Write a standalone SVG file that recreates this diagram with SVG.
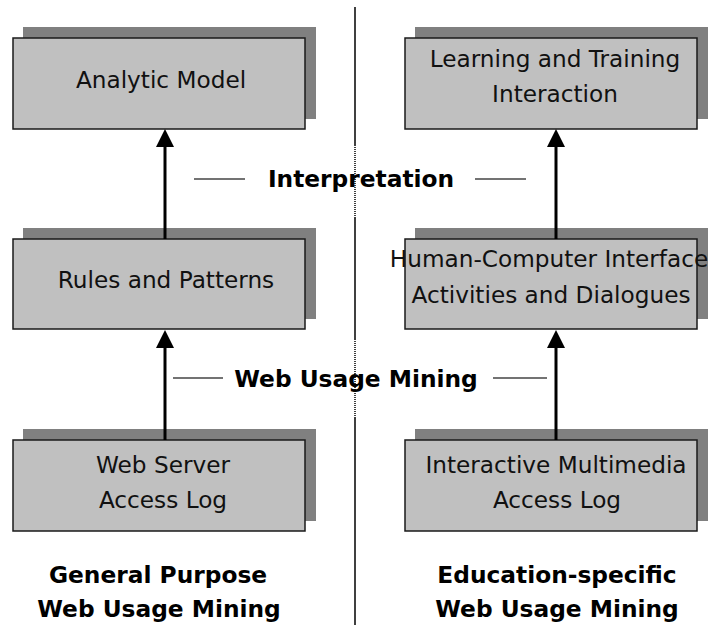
<svg xmlns="http://www.w3.org/2000/svg" width="714" height="627" viewBox="0 0 714 627">
<style>
.shadow{fill:#808080;}
.box{fill:#c0c0c0;stroke:#1a1a1a;stroke-width:1.5;}
.t{font-family:"DejaVu Sans","Verdana",sans-serif;font-size:23.2px;fill:#111;text-anchor:middle;}
.b{font-family:"DejaVu Sans","Verdana",sans-serif;font-size:23.3px;font-weight:bold;fill:#000;text-anchor:middle;}
.conn{stroke:#000;stroke-width:3;fill:none;}
.head{fill:#000;}
.dash{stroke:#444;stroke-width:1.5;}
.div{stroke:#000;stroke-width:1.5;}
.dot{stroke:#000;stroke-width:1.5;stroke-dasharray:1 1;}
</style>
<rect width="714" height="627" fill="#fff"/>
<g id="divider">
<line class="div" x1="355" y1="7" x2="355" y2="145"/>
<line class="dot" x1="355" y1="145" x2="355" y2="218"/>
<line class="div" x1="355" y1="218" x2="355" y2="339"/>
<line class="dot" x1="355" y1="339" x2="355" y2="418"/>
<line class="div" x1="355" y1="418" x2="355" y2="625"/>
</g>
<g id="analytic-model">
<rect class="shadow" x="23" y="27" width="293" height="92"/>
<rect class="box" x="13" y="38" width="292" height="91"/>
<text class="t" x="161" y="88">Analytic Model</text>
</g>
<g id="learning-training">
<rect class="shadow" x="415" y="27" width="293" height="92"/>
<rect class="box" x="405" y="38" width="292" height="91"/>
<text class="t" x="555" y="67">Learning and Training</text>
<text class="t" x="555" y="102">Interaction</text>
</g>
<g id="rules-patterns">
<rect class="shadow" x="23" y="228" width="293" height="91"/>
<rect class="box" x="13" y="239" width="292" height="90"/>
<text class="t" x="166" y="288">Rules and Patterns</text>
</g>
<g id="hci">
<rect class="shadow" x="415" y="228" width="293" height="91"/>
<rect class="box" x="405" y="239" width="292" height="90"/>
<text class="t" x="549" y="267">Human-Computer Interface</text>
<text class="t" x="551" y="303">Activities and Dialogues</text>
</g>
<g id="web-server-log">
<rect class="shadow" x="23" y="429" width="293" height="92"/>
<rect class="box" x="13" y="440" width="292" height="91"/>
<text class="t" x="163" y="473">Web Server</text>
<text class="t" x="163" y="508">Access Log</text>
</g>
<g id="multimedia-log">
<rect class="shadow" x="415" y="429" width="293" height="92"/>
<rect class="box" x="405" y="440" width="292" height="91"/>
<text class="t" x="556" y="473">Interactive Multimedia</text>
<text class="t" x="557" y="508">Access Log</text>
</g>
<g id="connectors">
<line class="conn" x1="165" y1="239" x2="165" y2="145"/>
<polygon class="head" points="165,129 156,147 174,147"/>
<line class="conn" x1="556" y1="239" x2="556" y2="145"/>
<polygon class="head" points="556,129 547,147 565,147"/>
<line class="conn" x1="165" y1="440" x2="165" y2="346"/>
<polygon class="head" points="165,330 156,348 174,348"/>
<line class="conn" x1="556" y1="440" x2="556" y2="346"/>
<polygon class="head" points="556,330 547,348 565,348"/>
</g>
<g id="label-interpretation">
<line class="dash" x1="194" y1="179" x2="245" y2="179"/>
<line class="dash" x1="475" y1="179" x2="526" y2="179"/>
<text class="b" x="361" y="187">Interpretation</text>
</g>
<g id="label-wum">
<line class="dash" x1="173" y1="378" x2="223" y2="378"/>
<line class="dash" x1="493" y1="378" x2="547" y2="378"/>
<text class="b" x="356" y="387">Web Usage Mining</text>
</g>
<g id="titles">
<text class="b" x="158" y="583">General Purpose</text>
<text class="b" x="159" y="617">Web Usage Mining</text>
<text class="b" x="557" y="583">Education-specific</text>
<text class="b" x="557" y="617">Web Usage Mining</text>
</g>
</svg>
